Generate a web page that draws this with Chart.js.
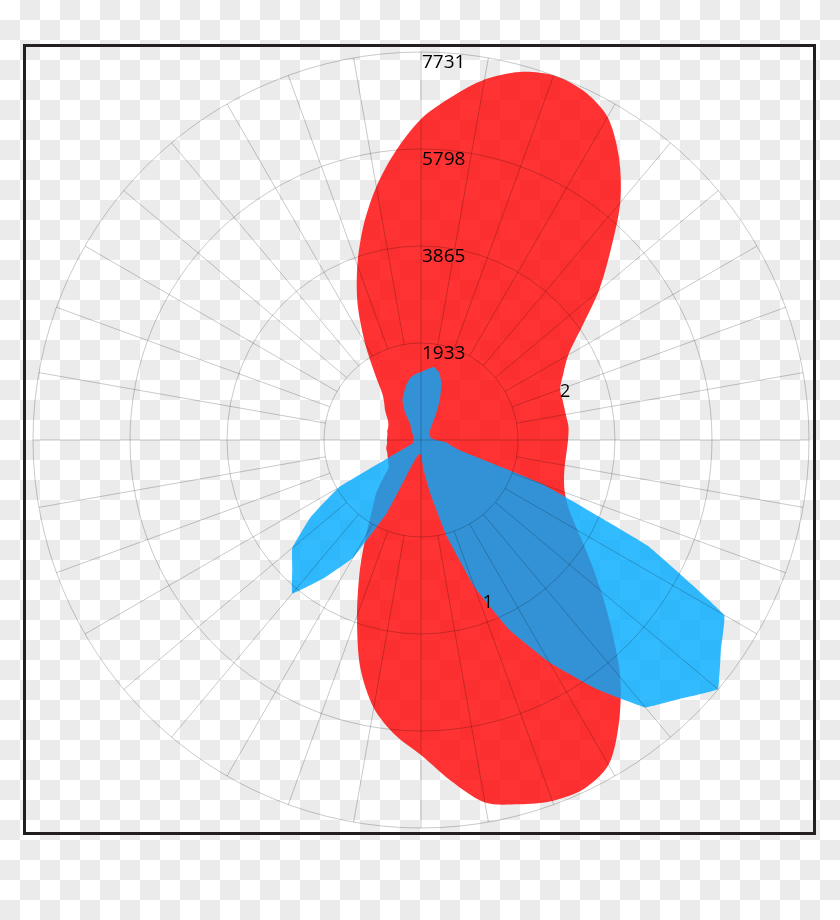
<!DOCTYPE html>
<html>
<head>
<meta charset="utf-8">
<script src="https://cdn.jsdelivr.net/npm/chart.js@4.4.1/dist/chart.umd.min.js"></script>
<style>
  html, body { margin: 0; padding: 0; }
  body {
    width: 840px; height: 920px; position: relative; overflow: hidden;
    background-color: #fff;
    background-image: conic-gradient(#ebebeb 25%, #fff 0 50%, #ebebeb 0 75%, #fff 0);
    background-size: 40px 40px;
  }
  .frame {
    position: absolute; left: 23px; top: 44px;
    width: 787px; height: 785px;
    border: 3px solid #231f20;
  }
  .chart-box { position: absolute; left: 0; top: 0; width: 840px; height: 920px; }
</style>
</head>
<body>
<div class="frame"></div>
<div class="chart-box"><canvas id="polarChart" width="840" height="920"></canvas></div>
<script>
// direction in degrees, clockwise from north, one entry every 5 degrees
const angles = [
    0, 5, 10, 15, 20, 25, 30, 35, 40, 45, 50, 55,
    60, 65, 70, 75, 80, 85, 90, 95, 100, 105, 110, 115,
    120, 125, 130, 135, 140, 145, 150, 155, 160, 165, 170, 175,
    180, 185, 190, 195, 200, 205, 210, 215, 220, 225, 230, 235,
    240, 245, 250, 255, 260, 265, 270, 275, 280, 285, 290, 295,
    300, 305, 310, 315, 320, 325, 330, 335, 340, 345, 350, 355
];

// series "1" (blue)
const seriesOne = [
    1355, 1415, 1475, 1395, 1196, 897, 598, 399, 299, 239, 219, 199,
    199, 199, 199, 199, 199, 239, 299, 498, 598, 797, 2590, 4983,
    6975, 7294, 7720, 7294, 6956, 6039, 5122, 4185, 3129, 1993, 1096, 598,
    299, 279, 299, 359, 558, 1594, 2710, 3348, 3986, 3627, 3348, 2691,
    1893, 239, 159, 159, 159, 159, 159, 159, 159, 159, 159, 159,
    179, 199, 239, 259, 319, 359, 638, 877, 997, 1136, 1256, 1315
];

// series "2" (red)
const seriesTwo = [
    6398, 6856, 7294, 7593, 7731, 7673, 7434, 6876, 6178, 5341, 4624, 3906,
    3388, 3129, 2950, 2930, 2930, 2950, 2930, 2910, 2910, 2950, 3049, 3249,
    3607, 4086, 4684, 5381, 6178, 6876, 7474, 7673, 7653, 7514, 7334, 6816,
    6278, 5899, 5421, 4684, 3727, 2890, 2192, 1694, 1395, 1056, 837, 797,
    757, 737, 717, 717, 698, 678, 678, 678, 678, 698, 698, 717,
    757, 837, 937, 1036, 1196, 1594, 2232, 2990, 3707, 4425, 5122, 5780
];

const seriesNames = ['1', '2'];
const tickValues = [1933, 3865, 5798, 7731];
const tickLabels = ['1933', '3865', '5798', '7731'];

// where the series names sit: [angle in degrees, radial value]
const nameSpots = [[157.7, 3508], [71.6, 3029]];

const gridPlugin = {
    id: 'polarGrid',
    afterDatasetsDraw(chart) {
        const scale = chart.scales.r;
        const ctx = chart.ctx;
        const cx = scale.xCenter, cy = scale.yCenter;
        const rIn = scale.getDistanceFromCenterForValue(tickValues[0]);
        const rOut = scale.getDistanceFromCenterForValue(tickValues[tickValues.length - 1]);

        ctx.save();
        ctx.strokeStyle = 'rgba(0,0,0,0.21)';
        ctx.lineWidth = 1;

        tickValues.forEach(v => {
            const r = scale.getDistanceFromCenterForValue(v);
            ctx.beginPath();
            ctx.arc(cx, cy, r, 0, Math.PI * 2);
            ctx.stroke();
        });

        for (let k = 0; k < 36; k++) {
            const a = k * 10 * Math.PI / 180;
            const start = (k % 9 === 0) ? 0 : rIn;
            ctx.beginPath();
            ctx.moveTo(cx + start * Math.sin(a), cy - start * Math.cos(a));
            ctx.lineTo(cx + rOut * Math.sin(a), cy - rOut * Math.cos(a));
            ctx.stroke();
        }

        ctx.fillStyle = '#000';
        ctx.font = '19px "Open Sans"';
        ctx.textAlign = 'left';
        ctx.textBaseline = 'alphabetic';
        tickValues.forEach((v, i) => {
            const r = scale.getDistanceFromCenterForValue(v);
            ctx.fillText(tickLabels[i], cx + 1, cy - r + 16);
        });

        ctx.font = '18px "Open Sans"';
        ctx.textAlign = 'center';
        ctx.textBaseline = 'middle';
        nameSpots.forEach(([deg, v], i) => {
            const r = scale.getDistanceFromCenterForValue(v);
            const a = deg * Math.PI / 180;
            ctx.fillText(seriesNames[i], cx + r * Math.sin(a), cy - r * Math.cos(a));
        });
        ctx.restore();
    }
};

new Chart(document.getElementById('polarChart'), {
    type: 'radar',
    data: {
        labels: angles,
        datasets: [
            {
                label: seriesNames[0],
                data: seriesOne,
                backgroundColor: 'rgba(0,170,255,0.8)',
                borderWidth: 0,
                pointRadius: 0,
                tension: 0.08,
                fill: true
            },
            {
                label: seriesNames[1],
                data: seriesTwo,
                backgroundColor: 'rgba(255,0,0,0.8)',
                borderWidth: 0,
                pointRadius: 0,
                tension: 0.3,
                fill: true
            }
        ]
    },
    options: {
        responsive: false,
        animation: false,
        layout: { padding: { left: 33, top: 52, right: 31, bottom: 92 } },
        plugins: {
            legend: { display: false },
            tooltip: { enabled: false }
        },
        scales: {
            r: {
                min: 0,
                max: tickValues[tickValues.length - 1],
                ticks: { display: false },
                grid: { display: false },
                angleLines: { display: false },
                pointLabels: { display: false }
            }
        }
    },
    plugins: [gridPlugin]
});
</script>
</body>
</html>
